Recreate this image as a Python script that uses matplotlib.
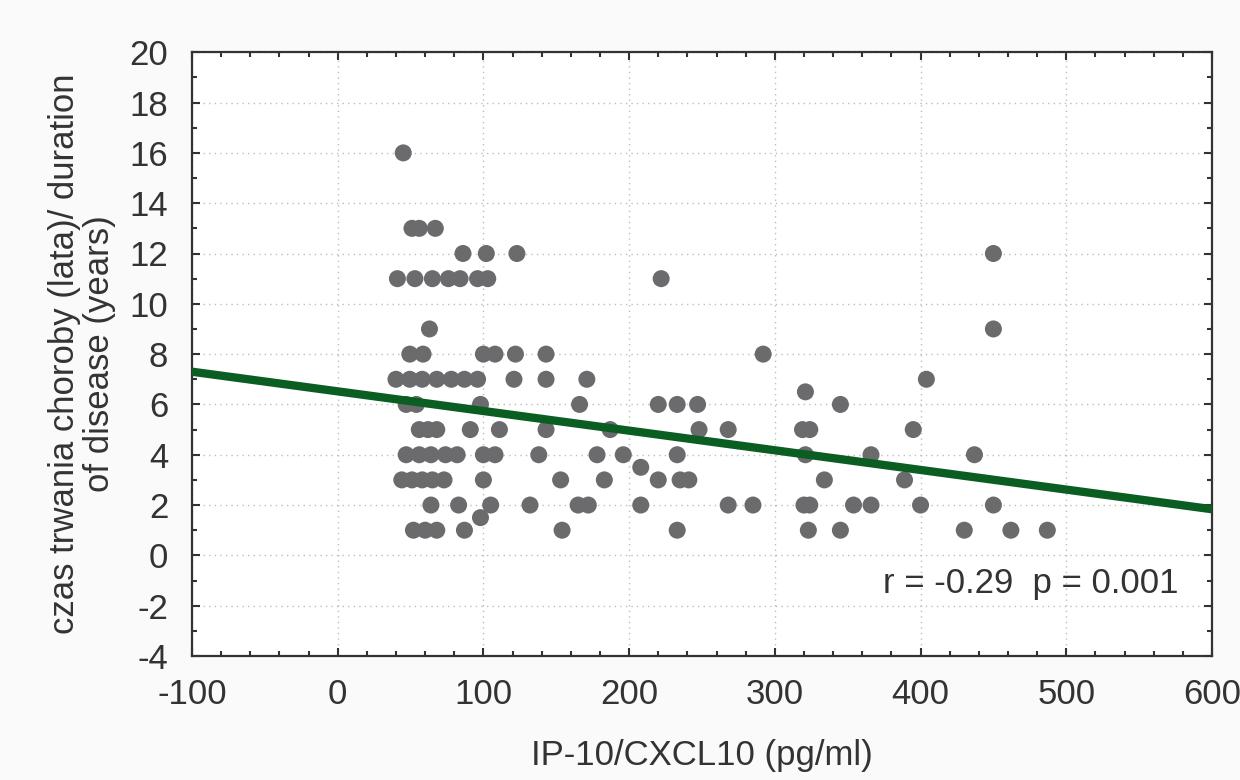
import numpy as np
import matplotlib
matplotlib.use('Agg')
import matplotlib.pyplot as plt
from matplotlib.ticker import MultipleLocator

# IP-10/CXCL10 (pg/ml) vs duration of disease (years), grouped by duration
dur_16 = [45]
dur_13 = [51, 56, 67]
dur_12 = [86, 102, 123, 450]
dur_11 = [41, 53, 65, 76, 84, 96, 103, 222]
dur_9 = [63, 450]
dur_8 = [49.5, 58.6, 100, 108, 122, 143, 292]
dur_7 = [40, 49.5, 58, 68, 78, 87, 96, 121, 143, 171, 404]
dur_6_5 = [321]
dur_6 = [47, 54, 98, 166, 220, 233, 247, 345]
dur_5 = [56, 62, 68, 91, 111, 143, 187, 248, 268, 319, 324, 395]
dur_4 = [47, 56, 64, 74, 82, 100, 108, 138, 178, 196, 233, 321, 366, 437]
dur_3_5 = [208]
dur_3 = [44, 51, 58, 65, 73, 100, 153, 183, 220, 235, 241, 334, 389]
dur_2 = [64, 83, 105, 132, 165, 172, 208, 268, 285, 320, 324, 354, 366, 400, 450]
dur_1_5 = [98]
dur_1 = [52, 60, 68, 87, 154, 233, 323, 345, 430, 462, 487]

groups = {16: dur_16, 13: dur_13, 12: dur_12, 11: dur_11, 9: dur_9, 8: dur_8,
          7: dur_7, 6.5: dur_6_5, 6: dur_6, 5: dur_5, 4: dur_4, 3.5: dur_3_5,
          3: dur_3, 2: dur_2, 1.5: dur_1_5, 1: dur_1}

# regression line
fit_intercept = 6.52
fit_slope = -0.00781

xs = []
ys = []
for dur, vals in groups.items():
    xs.extend(vals)
    ys.extend([dur] * len(vals))
xs = np.array(xs)
ys = np.array(ys)

plt.rcParams['font.family'] = ['Liberation Sans', 'DejaVu Sans']
plt.rcParams['axes.unicode_minus'] = False

fig = plt.figure(figsize=(12.4, 7.8), dpi=100, facecolor='#fafafa')
ax = fig.add_axes([0.1548, 0.159, 0.8226, 0.774])
ax.set_facecolor('white')

ax.scatter(xs, ys, s=150, color='#6b6b6d', edgecolors='none', zorder=3)

xlim = np.array([-100, 600])
ax.plot(xlim, fit_intercept + fit_slope * xlim, color='#0b5e22', lw=6, zorder=4,
        solid_capstyle='butt')

ax.set_xlim(-100, 600)
ax.set_ylim(-4, 20)
ax.xaxis.set_major_locator(MultipleLocator(100))
ax.xaxis.set_minor_locator(MultipleLocator(20))
ax.yaxis.set_major_locator(MultipleLocator(2))
ax.yaxis.set_minor_locator(MultipleLocator(1))

ax.grid(True, which='major', linestyle=(0, (1, 3)), color='#bdbdbd', lw=1.0, zorder=0)
ax.tick_params(which='both', direction='in', top=True, right=True,
               colors='#333333', labelcolor='#333333', labelsize=25, width=1.5)
ax.tick_params(which='major', length=6)
ax.tick_params(which='minor', length=3.5)
ax.tick_params(axis='x', which='major', pad=16)
ax.tick_params(axis='y', which='major', pad=17)
for sp in ax.spines.values():
    sp.set_color('#333333')
    sp.set_linewidth(1.6)

ax.set_xlabel('IP-10/CXCL10 (pg/ml)', fontsize=25, color='#333333', labelpad=20)
ax.set_ylabel('czas trwania choroby (lata)/ duration\nof disease (years)',
              fontsize=25, color='#333333', labelpad=10, linespacing=1.05)

ax.text(577, -1.1, 'r = -0.29  p = 0.001', ha='right', va='center',
        fontsize=25, color='#333333', zorder=5)

fig.savefig('out.png', dpi=100, facecolor=fig.get_facecolor())
